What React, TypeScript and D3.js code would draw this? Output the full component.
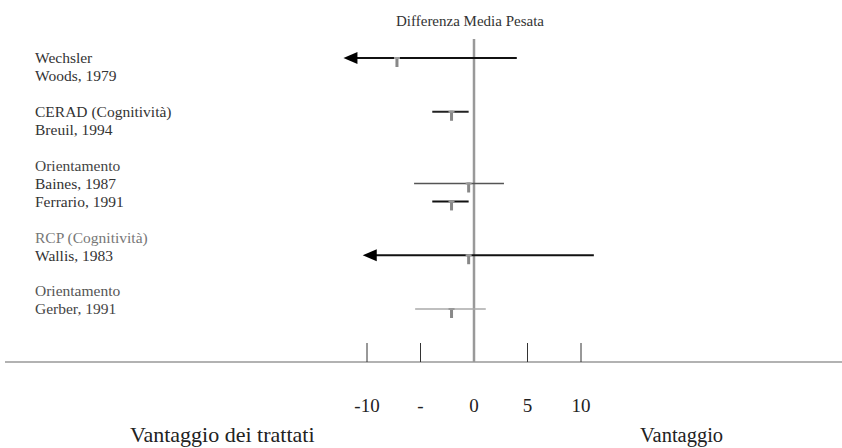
import React from 'react'
import * as d3 from 'd3'

// label lines, one per text row on the left
const labelLines = [
  'Wechsler', 'Woods, 1979', '',
  'CERAD (Cognitività)', 'Breuil, 1994', '',
  'Orientamento', 'Baines, 1987', 'Ferrario, 1991', '',
  'RCP (Cognitività)', 'Wallis, 1983', '',
  'Orientamento', 'Gerber, 1991'
]
const labelColors = [
  '#333', '#333', '',
  '#333', '#333', '',
  '#444', '#333', '#333', '',
  '#777', '#333', '',
  '#555', '#444'
]

// studies: row index, point estimate, lower and upper CI
const studies = ['Woods', 'Breuil', 'Baines', 'Ferrario', 'Wallis', 'Gerber']
const studyRows = [0, 3, 7, 8, 11, 14]
const estimates = [-7.2, -2.1, -0.5, -2.1, -0.5, -2.1]
const lowers = [-12.2, -3.9, -5.6, -3.9, -10.4, -5.5]
const uppers = [4.0, -0.5, 2.8, -0.5, 11.2, 1.1]
const clipped = [true, false, false, false, true, false]
const lineColors = ['#111', '#222', '#555', '#111', '#111', '#aaa']
const lineWidths = [2, 2, 1.5, 2, 2, 1.5]

const tickValues = [-10, -5, 0, 5, 10]
const tickLabels = ['-10', '-', '0', '5', '10']

const W = 842
const H = 448

const App = () => {
  const x = d3.scaleLinear().domain([-10, 10]).range([367, 581])
  const y = d3.scaleLinear().domain([0, 14]).range([58, 309])
  const axisY = 362

  return (
    <svg width={W} height={H} style={{ position: 'absolute', left: 0, top: 0, fontFamily: '"Liberation Serif", Tinos, "Times New Roman", serif' }}>
      <rect width={W} height={H} fill="#fff" />
      <text x={470} y={26} fontSize={15} textAnchor="middle" fill="#333">
        Differenza Media Pesata
      </text>

      {labelLines.map((t, i) => t && (
        <text key={i} x={35} y={y(i)} dy="0.35em" fontSize={15.5} fill={labelColors[i]}>{t}</text>
      ))}

      {/* zero line */}
      <line x1={x(0)} x2={x(0)} y1={39} y2={axisY} stroke="#999" strokeWidth={2.5} />

      {studies.map((s, i) => {
        const yy = y(studyRows[i])
        const x0 = x(lowers[i])
        return (
          <g key={s}>
            <line x1={clipped[i] ? x0 + 10 : x0} x2={x(uppers[i])} y1={yy} y2={yy}
              stroke={lineColors[i]} strokeWidth={lineWidths[i]} />
            {clipped[i] && (
              <path d={`M${x0},${yy}L${x0 + 14},${yy - 6}L${x0 + 14},${yy + 6}Z`} fill="#000" />
            )}
            <rect x={x(estimates[i]) - 1.5} y={yy - 1} width={3} height={10} fill="#888" />
            <rect x={x(estimates[i]) - 3} y={yy - 1} width={6} height={2} fill="#999" />
          </g>
        )
      })}

      {/* axis */}
      <line x1={5} x2={W} y1={axisY} y2={axisY} stroke="#999" strokeWidth={1.5} />
      {tickValues.map((v, i) => (
        <g key={v}>
          {v !== 0 && <line x1={x(v)} x2={x(v)} y1={343} y2={axisY} stroke="#333" strokeWidth={1} />}
          <text x={x(v)} y={412} fontSize={19} textAnchor="middle" fill="#222">{tickLabels[i]}</text>
        </g>
      ))}

      <text x={130} y={442} fontSize={22} fill="#222">Vantaggio dei trattati</text>
      <text x={640} y={442} fontSize={20.5} fill="#222">Vantaggio</text>
    </svg>
  )
}

export default App
